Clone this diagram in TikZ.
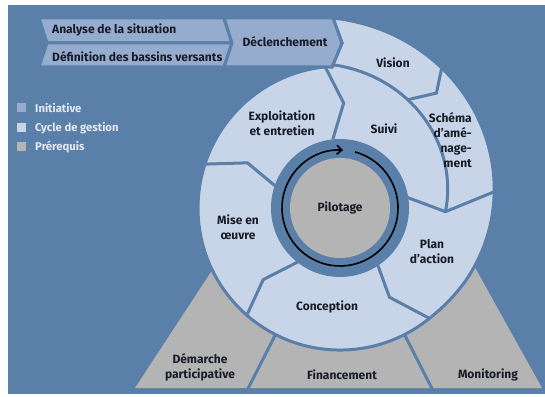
\documentclass[tikz,border=0pt]{standalone}
\usepackage{fontspec}
\setmainfont{Fira Sans}
\usetikzlibrary{arrows.meta}

\definecolor{bgblue}{RGB}{90,127,168}
\definecolor{initblue}{RGB}{150,172,206}
\definecolor{cyclelight}{RGB}{200,213,232}
\definecolor{prereq}{RGB}{180,180,180}
\definecolor{txtdark}{RGB}{24,28,40}
\definecolor{legtxt}{RGB}{228,234,243}

\begin{document}
\begin{tikzpicture}[x=1pt,y=1pt,>={Straight Barb[length=5pt,width=9pt]},
    lbl/.style={font=\bfseries\fontsize{12}{15}\selectfont, text=txtdark,
                align=center, inner sep=0pt},
    leg/.style={font=\bfseries\fontsize{11.3}{12}\selectfont, text=legtxt,
                anchor=west, inner sep=0pt},
    legbox/.style={minimum size=9pt, inner sep=0pt},
    part/.style={draw=bgblue, line width=3pt, line join=miter},
    seam/.style={draw=bgblue, line width=3pt, line join=miter}]

  \useasboundingbox (0,0) rectangle (545,396);
  \fill[bgblue] (8,2) rectangle (545,391);

  % legend
  \node[legbox, fill=initblue]   (kinit)  at (21.5,288) {};
  \node[legbox, fill=cyclelight] (kcycle) at (21.5,268) {};
  \node[legbox, fill=prereq]     (kpre)   at (21.5,249) {};
  \node[leg] (linit)  at (35,288) {Initiative};
  \node[leg] (lcycle) at (35,268) {Cycle de gestion};
  \node[leg] (lpre)   at (35,249) {Prérequis};

  % prerequisites
  \fill[prereq] (135,8) -- (542,8) -- (463,150) -- (228,150) -- cycle;
  \draw[seam] (340,188) -- ++(-117:205);
  \draw[seam] (340,188) -- ++(-63:205);

  \coordinate (dtop) at (333,378);
  \coordinate (dtip) at (342,353);
  \coordinate (dbot) at (332,329);

  % management cycle
  \begin{scope}[shift={(340,188)}]
    \filldraw[fill=cyclelight, part] (dbot) -- (dtip) -- (dtop)
      -- plot[domain=92:-49, samples=80, variable=\t] (\t:{142+48*((\t+50)/142)^1.4})
      arc[start angle=-49, end angle=-265, radius=142] -- cycle;
    \draw[seam] plot[domain=95:-2, samples=60, variable=\t] (\t:{95+48*((\t+50)/142)^1.4});
    \draw[seam] (96:69) -- (88:105) -- (96:142);
    \draw[seam] (10:66) -- (-2:105.5) -- (6:155);
    \draw[seam] (58:127.7) -- (50:150) -- (54:173);
    \draw[seam] (-56:66) -- (-61:102) -- (-51:142);
    \draw[seam] (-127:66) -- (-137:105) -- (-131:142);
    \draw[seam] (162:66) -- (154:103) -- (162:142);

    \fill[bgblue] (0,0) circle[radius=69];
    \node[lbl, circle, fill=prereq, minimum size=100pt] (pilot) at (0,0) {Pilotage};
    \draw[->, line width=1.6pt, black] (75:58) arc[start angle=75, end angle=-273, radius=58];
  \end{scope}

  % initiative
  \filldraw[fill=initblue, part] (39,378) -- (224,378) -- (232,353) -- (47,353) -- cycle;
  \filldraw[fill=initblue, part] (47,353) -- (232,353) -- (224,329) -- (39,329) -- cycle;
  \filldraw[fill=initblue, part] (224,378) -- (dtop) -- (dtip) -- (dbot) -- (224,329) -- (232,353) -- cycle;

  \node[lbl, anchor=west] (analyse) at (52,366) {Analyse de la situation};
  \node[lbl, anchor=west] (bassins) at (52,339) {Définition des bassins versants};
  \node[lbl] (declench) at (285,354) {Déclenchement};
  \node[lbl] (vision)   at (393,333) {Vision};
  \node[lbl] (exploit)  at (282,273) {Exploitation\\et entretien};
  \node[lbl] (suivi)    at (384,267) {Suivi};
  \node[lbl, align=right, anchor=east] (schema) at (472,256) {Schéma\\d’amé-\\nage-\\ment};
  \node[lbl] (mise)     at (238,169) {Mise en\\œuvre};
  \node[lbl] (plan)     at (432,144) {Plan\\d’action};
  \node[lbl] (concep)   at (327,89)  {Conception};
  \node[lbl] (demarche) at (200,29)  {Démarche\\participative};
  \node[lbl] (finance)  at (342,21)  {Financement};
  \node[lbl] (monitor)  at (488,21)  {Monitoring};
\end{tikzpicture}
\end{document}
